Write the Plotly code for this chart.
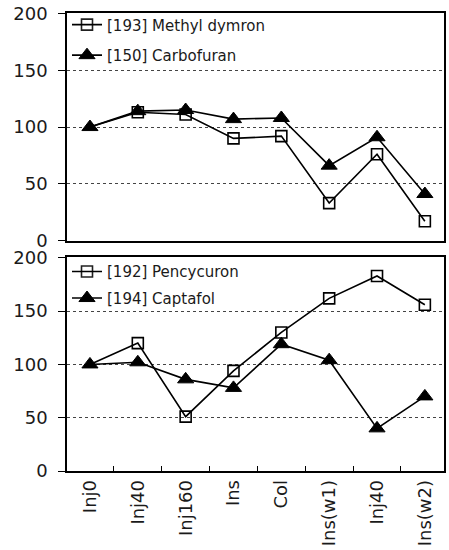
import plotly.graph_objects as go

# ---- data ----
categories = ["Inj0", "Inj40", "Inj160", "Ins", "Col", "Ins(w1)", "Inj40", "Ins(w2)"]
methyl_dymron = [100, 113, 111, 90, 92, 33, 76, 17]
carbofuran = [100, 114, 115, 107, 108, 66, 91, 41]
pencycuron = [100, 120, 51, 94, 130, 162, 183, 156]
captafol = [100, 102, 86, 78, 119, 104, 40, 70]
y_ticks = [0, 50, 100, 150, 200]

x = list(range(len(categories)))
FONT = "DejaVu Sans"
TXT = "#1a1a1a"

fig = go.Figure()

# first square marker is hidden under the triangle in the reference
sq_opacity = [0] + [1] * (len(categories) - 1)
sq = dict(symbol="square-open", size=11, opacity=sq_opacity, color="black",
          line=dict(width=1.6, color="black"))
tri = dict(symbol="triangle-up", size=14, color="black", line=dict(width=1, color="black"))
ln = dict(color="black", width=1.6)

fig.add_trace(go.Scatter(x=x, y=methyl_dymron, mode="lines+markers", name="[193] Methyl dymron",
                         marker=sq, line=ln, xaxis="x", yaxis="y", legend="legend",
                         legendgroup="a"))
fig.add_trace(go.Scatter(x=x, y=carbofuran, mode="lines+markers", name="[150] Carbofuran",
                         marker=tri, line=ln, xaxis="x", yaxis="y", legend="legend",
                         legendgroup="b"))
fig.add_trace(go.Scatter(x=x, y=pencycuron, mode="lines+markers", name="[192] Pencycuron",
                         marker=sq, line=ln, xaxis="x2", yaxis="y2", legend="legend2",
                         legendgroup="c"))
fig.add_trace(go.Scatter(x=x, y=captafol, mode="lines+markers", name="[194] Captafol",
                         marker=tri, line=ln, xaxis="x2", yaxis="y2", legend="legend2",
                         legendgroup="d"))

xr = [-0.48, 7.4]
yax = dict(range=[0, 200.5], tickvals=y_ticks, ticks="outside", ticklen=7, tickcolor="black",
           tickwidth=1, showline=True, linecolor="black", linewidth=1.6, mirror=True,
           showgrid=True, gridcolor="#444444", griddash="dot", gridwidth=1,
           zeroline=False, ticklabelstandoff=7,
           tickfont=dict(family=FONT, size=18, color=TXT))

fig.update_layout(
    width=449, height=550,
    margin=dict(l=67, r=3, t=8, b=79),
    paper_bgcolor="white", plot_bgcolor="white",
    showlegend=True,
    xaxis=dict(domain=[0, 1], range=xr, anchor="y", showticklabels=False, ticks="",
               showline=True, linecolor="black", linewidth=1.6, mirror=True,
               showgrid=False, zeroline=False),
    yaxis=dict(domain=[0.5032, 1], anchor="x", **yax),
    xaxis2=dict(domain=[0, 1], range=xr, anchor="y2", tickvals=x, ticktext=categories,
                tickangle=-90, ticks="", showline=True, linecolor="black", linewidth=1.6,
                mirror=True, showgrid=False, zeroline=False,
                tickfont=dict(family=FONT, size=18, color=TXT),
                minor=dict(tickvals=[i + 0.5 for i in range(len(categories) - 1)],
                           ticks="inside", ticklen=5, tickcolor="black", showgrid=False)),
    yaxis2=dict(domain=[0, 0.4665], anchor="x2", **yax),
    legend=dict(x=0.0, y=1.01, xanchor="left", yanchor="top", bgcolor="rgba(0,0,0,0)",
                font=dict(family=FONT, size=15, color=TXT), traceorder="grouped",
                tracegroupgap=8, itemwidth=30),
    legend2=dict(x=0.0, y=0.471, xanchor="left", yanchor="top", bgcolor="rgba(0,0,0,0)",
                 font=dict(family=FONT, size=15, color=TXT), traceorder="grouped",
                 tracegroupgap=4, itemwidth=30),
)

fig.write_html("out.html")
